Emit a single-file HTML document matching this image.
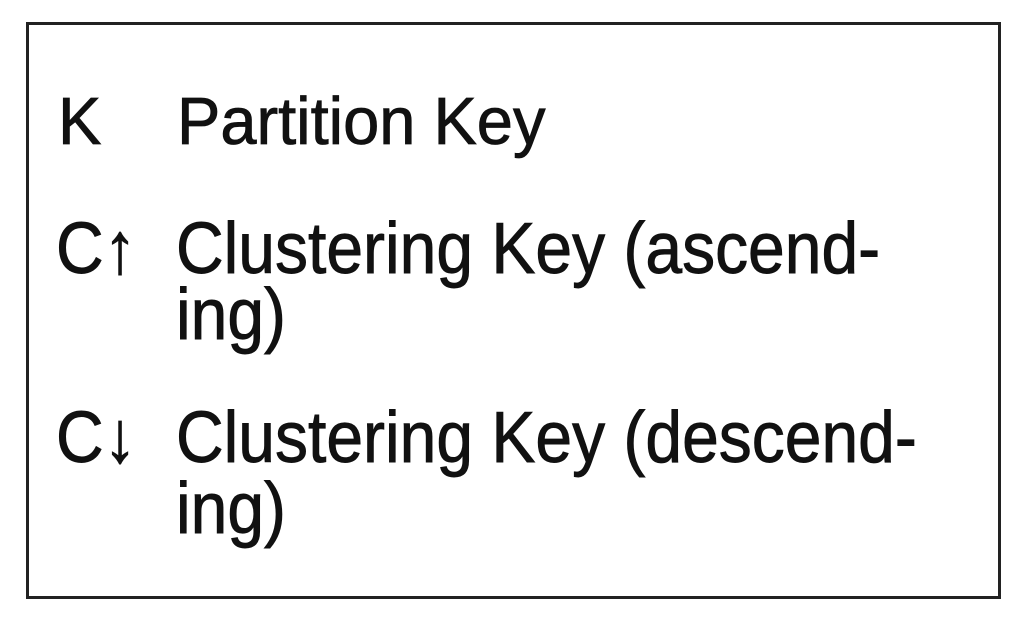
<!DOCTYPE html>
<html><head><style>
html,body{margin:0;padding:0;background:#fff;width:1024px;height:620px;overflow:hidden}
</style></head><body>
<svg width="1024" height="620" xmlns="http://www.w3.org/2000/svg">
<rect x="27.5" y="23.5" width="972" height="574" fill="#fff" stroke="#222" stroke-width="3"/>
<g font-family="Liberation Sans, Arial, sans-serif" font-size="66" fill="#111" stroke="#111" stroke-width="0.8">
<text transform="translate(58,144) scale(1,1.03)" font-size="65">K</text>
<text transform="translate(177,144) scale(1,1.03)" font-size="65">Partition Key</text>
<text transform="translate(56,273) scale(1,1.1)">C↑</text>
<text transform="translate(176,273) scale(1,1.1)">Clustering Key (ascend-</text>
<text transform="translate(176,339) scale(1,1.1)">ing)</text>
<text transform="translate(56,462) scale(1,1.1)">C↓</text>
<text transform="translate(176,462) scale(1,1.1)">Clustering Key (descend-</text>
<text transform="translate(176,533) scale(1,1.1)">ing)</text>
</g>
</svg>
</body></html>
